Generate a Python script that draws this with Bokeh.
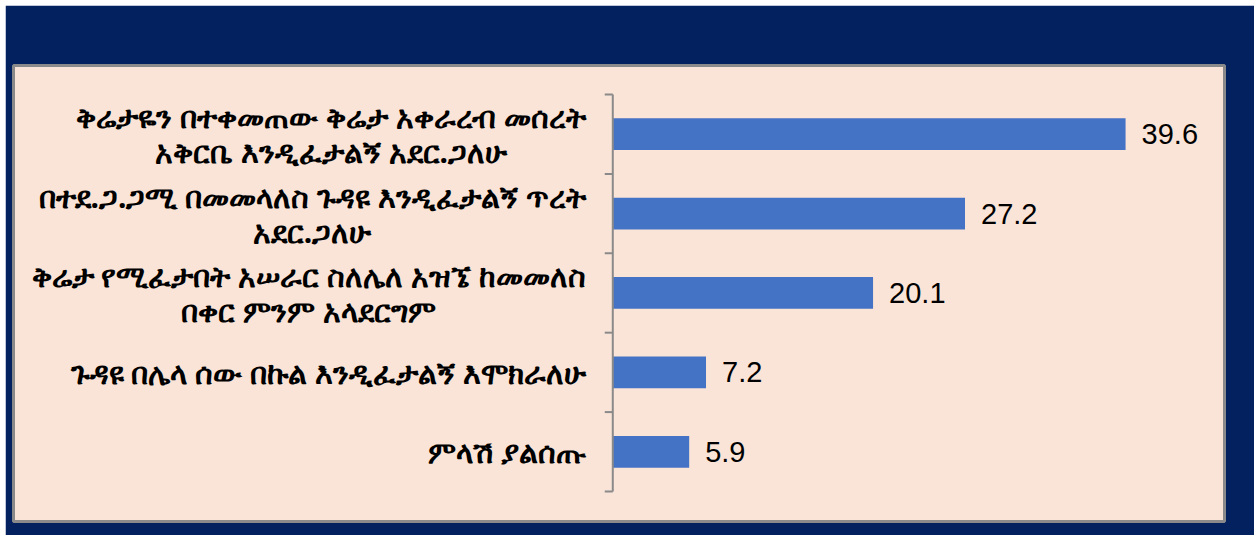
from bokeh.plotting import figure
from bokeh.models import ColumnDataSource, Range1d, Spacer
from bokeh.layouts import column, row
from bokeh.core.properties import value
from bokeh.embed import file_html
from bokeh.resources import INLINE

categories = [
    "ቅሬታዬን በተቀመጠው ቅሬታ አቀራረብ መሰረት\nአቅርቤ እንዲፈታልኝ አደር.ጋለሁ",
    "በተደ.ጋ.ጋሚ በመመላለስ ጉዳዩ እንዲፈታልኝ ጥረት\nአደር.ጋለሁ",
    "ቅሬታ የሚፈታበት አሠራር ስለሌለ አዝኜ ከመመለስ\nበቀር ምንም አላደርግም",
    "ጉዳዩ በሌላ ሰው በኩል እንዲፈታልኝ እሞክራለሁ",
    "ምላሽ ያልሰጡ",
]
values = [39.6, 27.2, 20.1, 7.2, 5.9]
value_labels = ["39.6", "27.2", "20.1", "7.2", "5.9"]

NAVY = "#03205f"
PEACH = "#fae4d7"
BAR = "#4472c4"

n = len(categories)
ypos = [n - i for i in range(n)]

src = ColumnDataSource(dict(y=ypos, v=values, cat=categories, lab=value_labels,
                            lx=[-2.1] * n))

p = figure(width=1249, height=530, output_backend="svg", toolbar_location=None,
           x_range=Range1d(-46.28, 47.24), y_range=Range1d(0.122, 5.865),
           min_border_left=8, min_border_right=30, min_border_top=60,
           min_border_bottom=14)
p.background_fill_color = PEACH
p.border_fill_color = NAVY
p.outline_line_color = "#8a8a8a"
p.outline_line_width = 3
p.xaxis.visible = False
p.yaxis.visible = False
p.xgrid.visible = False
p.ygrid.visible = False

p.hbar(y="y", right="v", left=0, height=0.4, source=src, color=BAR, line_color=None)

# axis line and ticks at category boundaries
bounds = [0.5 + i for i in range(n + 1)]
p.segment(x0=[0], y0=[bounds[0]], x1=[0], y1=[bounds[-1]], line_color="#8a8a8a", line_width=2)
p.segment(x0=[-0.62] * len(bounds), y0=bounds, x1=[0] * len(bounds), y1=bounds,
          line_color="#8a8a8a", line_width=2)

p.text(x="v", y="y", text="lab", source=src, x_offset=16,
       text_font=value("Liberation Sans"), text_font_size="29px",
       text_align="left", text_baseline="middle", text_color="black")

p.text(x="lx", y="y", text="cat", source=src, anchor="center_right",
       text_align="center", text_baseline="middle",
       text_font=value("Noto Sans"), text_font_size="30px", text_font_style="bold",
       text_line_height=0.85, text_color="black")

layout = column(Spacer(height=5), row(Spacer(width=5), p))
open("out.html", "w").write(file_html(layout, INLINE))
